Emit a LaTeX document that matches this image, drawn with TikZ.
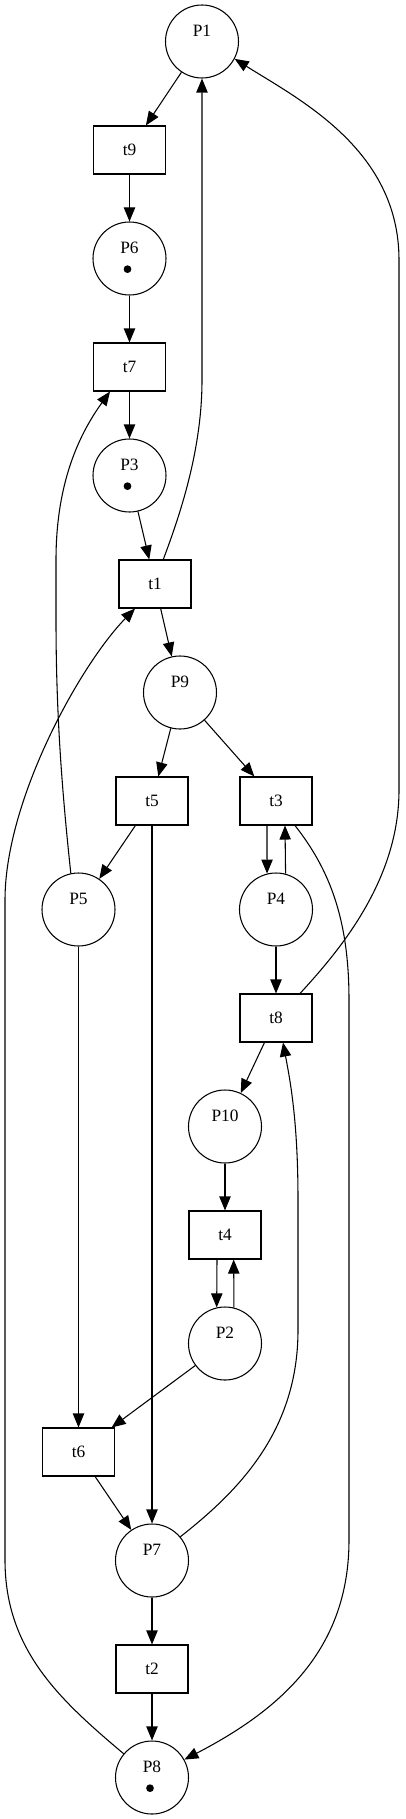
\documentclass[tikz,border=0pt]{standalone}
\usepackage{fontspec}
\setmainfont{Liberation Serif}
\usetikzlibrary{arrows.meta,calc}
\begin{document}
\begin{tikzpicture}[x=0.75pt,y=-0.75pt,
  every node/.style={font=\fontsize{13pt}{15pt}\selectfont},
  place/.style={draw,circle,line width=0.8pt,minimum size=54.75pt,inner sep=0pt},
  trans/.style={draw,rectangle,line width=0.8pt,minimum width=54pt,minimum height=36pt,inner sep=0pt},
  arc/.style={line width=0.8pt,-{Triangle[length=10.5pt,width=8.5pt]}},
  plabel/.style={label={[yshift=7.9pt]center:#1}},
  tok/.style={fill=black}]
\useasboundingbox (0,0) rectangle (405,1819);
% places
\node[place,plabel=P1]  (P1)  at (202,41.5) {};
\node[place,plabel=P6]  (P6)  at (129.5,258.5) {};
\node[place,plabel=P3]  (P3)  at (129.5,475.5) {};
\node[place,plabel=P9]  (P9)  at (180,692.5) {};
\node[place,plabel=P5]  (P5)  at (78.5,909.5) {};
\node[place,plabel=P4]  (P4)  at (276,909.5) {};
\node[place,plabel=P10] (P10) at (225,1126.5) {};
\node[place,plabel=P2]  (P2)  at (225,1343.5) {};
\node[place,plabel=P7]  (P7)  at (152,1560.5) {};
\node[place,plabel=P8]  (P8)  at (152,1777.5) {};
% transitions
\node[trans] (t9) at (129.5,150) {t9};
\node[trans] (t7) at (129.5,367) {t7};
\node[trans] (t1) at (155,584) {t1};
\node[trans] (t5) at (152,801) {t5};
\node[trans] (t3) at (276,801) {t3};
\node[trans] (t8) at (276,1018) {t8};
\node[trans] (t4) at (225,1235) {t4};
\node[trans] (t6) at (78.5,1452) {t6};
\node[trans] (t2) at (152,1669) {t2};
% tokens
\fill[tok] ([xshift=-1.5pt,yshift=-8pt]P6.center) circle (2.9pt);
\fill[tok] ([xshift=-1.5pt,yshift=-8pt]P3.center) circle (2.9pt);
\fill[tok] ([xshift=-1.5pt,yshift=-8pt]P8.center) circle (2.9pt);
% straight arcs
\draw[arc] (P1) -- (t9);
\draw[arc] (t9) -- (P6);
\draw[arc] (P6) -- (t7);
\draw[arc] (t7) -- (P3);
\draw[arc] (P3) -- (t1);
\draw[arc] (t1) -- (P9);
\draw[arc] (P9) -- (t5);
\draw[arc] (P9) -- (t3);
\draw[arc] (t5) -- (P5);
\draw[arc] (t5) -- (P7);
\draw[arc] ([xshift=-6.75pt]t3.south) -- (P4.104.5);
\draw[arc] (P4.75.5) -- ([xshift=6.75pt]t3.south);
\draw[arc] (P4) -- (t8);
\draw[arc] (t8) -- (P10);
\draw[arc] (P10) -- (t4);
\draw[arc] ([xshift=-6pt]t4.south) -- (P2.103);
\draw[arc] (P2.76) -- ([xshift=6.5pt]t4.south);
\draw[arc] (P2) -- (t6);
\draw[arc] (P5) -- (t6);
\draw[arc] (t6) -- (P7);
\draw[arc] (P7) -- (t2);
\draw[arc] (t2) -- (P8);
% curved arcs
\draw[arc] ([xshift=6.2pt]t1.north) .. controls (180,515) and (202,450) .. (202,380) -- (P1.south);
\draw[arc] ([xshift=18pt]t8.north) .. controls (340,950) and (399,880) .. (399,790) -- (399,260) .. controls (399,150) and (300,100) .. (P1.-28);
\draw[arc] (P5.102) .. controls (63,800) and (56,720) .. (56,620) -- (56,560) .. controls (56,490) and (75,440) .. ([xshift=-14.6pt]t7.south);
\draw[arc] (P8.140) .. controls (60,1700) and (5,1650) .. (5,1560) -- (5,900) .. controls (5,800) and (80,665) .. ([xshift=-15pt]t1.south);
\draw[arc] ([xshift=14.25pt]t3.south) .. controls (330,870) and (349,920) .. (349,1000) -- (349,1540) .. controls (349,1650) and (280,1710) .. (P8.29);
\draw[arc] (P7.40) .. controls (240,1490) and (298,1430) .. (298,1330) -- (298,1200) .. controls (298,1120) and (290,1080) .. ([xshift=5.25pt]t8.south);
\end{tikzpicture}
\end{document}
